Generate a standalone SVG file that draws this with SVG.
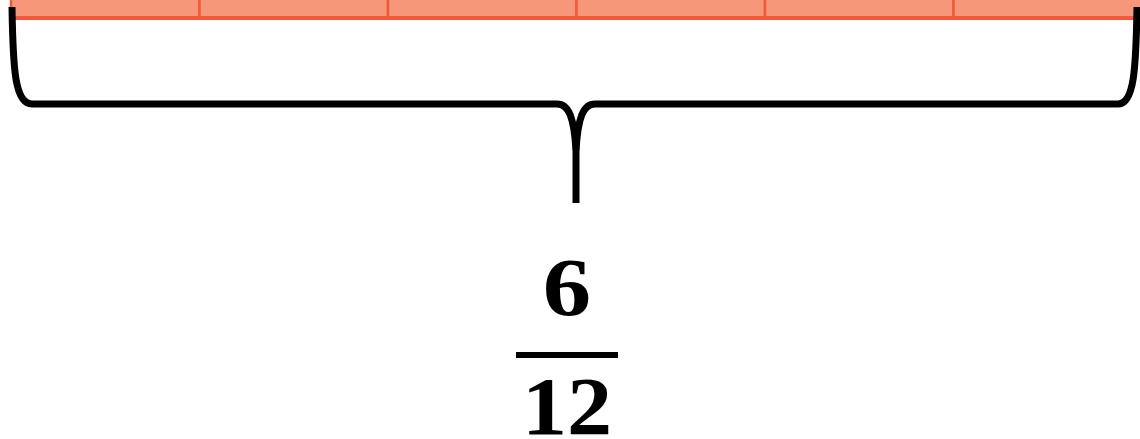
<svg xmlns="http://www.w3.org/2000/svg" width="1140" height="439" viewBox="0 0 1140 439">
  <style>
    .cell { fill: #F6977A; stroke: #F4583A; stroke-width: 2.5; }
    .brace { fill: none; stroke: #000; stroke-width: 7; stroke-linejoin: round; stroke-linecap: butt; }
    .num { font-family: "Liberation Serif", "Times New Roman", serif; font-weight: bold; font-size: 82px; fill: #000; text-anchor: middle; }
  </style>
  <g id="strip">
    <rect class="cell" x="11" y="-10" width="188.5" height="28"/>
    <rect class="cell" x="199.5" y="-10" width="188.5" height="28"/>
    <rect class="cell" x="388" y="-10" width="188.5" height="28"/>
    <rect class="cell" x="576.5" y="-10" width="188.5" height="28"/>
    <rect class="cell" x="765" y="-10" width="188.5" height="28"/>
    <rect class="cell" x="953.5" y="-10" width="188.5" height="28"/>
    <line x1="11" y1="18" x2="1140" y2="18" stroke="#F4583A" stroke-width="4"/>
  </g>
  <g id="brace">
    <path class="brace" d="M12,7 C13,70 15,104 32,104 L557,104 C569,104 574,118 576,150 L576,203"/>
    <path class="brace" d="M1137,7 C1136,70 1134,104 1118,104 L595,104 C583,104 578,118 576,150"/>
  </g>
  <g id="fraction">
    <text class="num" transform="translate(567,315) scale(1.18,1)">6</text>
    <line x1="516" y1="355" x2="618" y2="355" stroke="#000" stroke-width="6"/>
    <text class="num" transform="translate(567,434) scale(1.1,1)">12</text>
  </g>
</svg>
